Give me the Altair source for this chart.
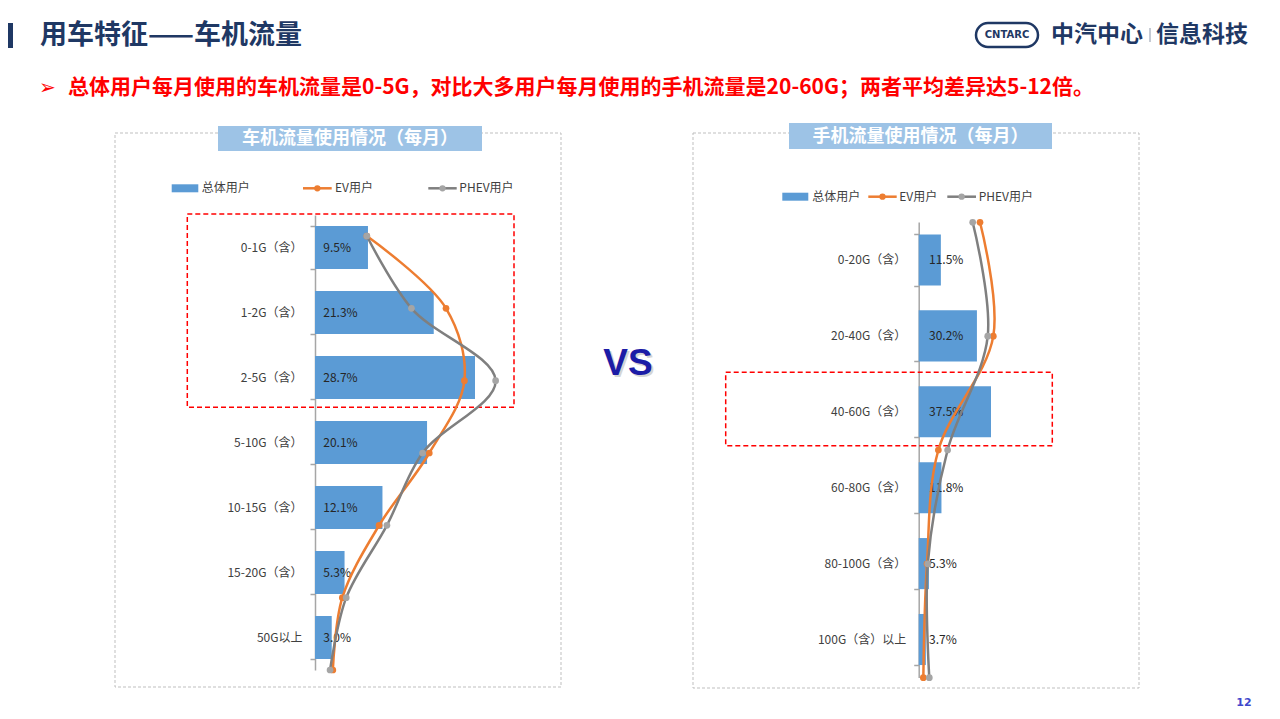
import altair as alt
import pandas as pd

# ---------------- data ----------------
car_cats = ["0-1G（含）", "1-2G（含）", "2-5G（含）", "5-10G（含）", "10-15G（含）", "15-20G（含）", "50G以上"]
car_total = [9.5, 21.3, 28.7, 20.1, 12.1, 5.3, 3.0]
car_ev = [9.3, 23.5, 26.8, 20.5, 11.5, 4.9, 3.2]
car_phev = [9.3, 17.3, 32.4, 19.3, 12.9, 5.6, 2.7]

phone_cats = ["0-20G（含）", "20-40G（含）", "40-60G（含）", "60-80G（含）", "80-100G（含）", "100G（含）以上"]
phone_total = [11.5, 30.2, 37.5, 11.8, 5.3, 3.7]
phone_ev = [31.8, 38.7, 10.2, 4.3, 2.4]
phone_phev = [28.0, 35.8, 15.0, 4.7, 5.5]

page_title = "用车特征——车机流量"
subtitle = "总体用户每月使用的车机流量是0-5G，对比大多用户每月使用的手机流量是20-60G；两者平均差异达5-12倍。"
car_title = "车机流量使用情况（每月）"
phone_title = "手机流量使用情况（每月）"
legend_names = ["总体用户", "EV用户", "PHEV用户"]

FONT = "Noto Sans CJK SC"
BLUE = "#5B9BD5"
ORANGE = "#ED7D31"
GRAY = "#7F7F7F"
LGRAY = "#A5A5A5"
NAVY = "#1F3864"
AXIS = "#A6A6A6"

one = pd.DataFrame({"d": [0]})


def rect(x1, x2, y1, y2, **kw):
    return alt.Chart(one).mark_rect(**kw).encode(
        x=alt.value(x1), x2=alt.value(x2), y=alt.value(y1), y2=alt.value(y2))


def text(x, y, s, **kw):
    base = dict(font=FONT, baseline="middle")
    base.update(kw)
    return alt.Chart(one).mark_text(text=s, **base).encode(x=alt.value(x), y=alt.value(y))


def hrule(x1, x2, y, **kw):
    return alt.Chart(one).mark_rule(**kw).encode(x=alt.value(x1), x2=alt.value(x2), y=alt.value(y))


def vrule(x, y1, y2, **kw):
    return alt.Chart(one).mark_rule(**kw).encode(x=alt.value(x), y=alt.value(y1), y2=alt.value(y2))


def dot(x, y, color, size=40):
    return alt.Chart(one).mark_point(filled=True, color=color, size=size, opacity=1).encode(
        x=alt.value(x), y=alt.value(y))


def bars_layer(cats, vals, xdom, xrange, yrange, pin, pout, axis_x, label_x):
    df = pd.DataFrame({"cat": cats, "v": vals, "lab": [f"{v:.1f}%" for v in vals]})
    y = alt.Y("cat:N", sort=cats,
              scale=alt.Scale(range=yrange, paddingInner=pin, paddingOuter=pout),
              axis=alt.Axis(orient="left", offset=-axis_x, title=None, grid=False,
                            domainColor=AXIS, domainWidth=1.5, tickColor=AXIS, tickWidth=1.5,
                            tickSize=5, tickBand="extent", labelPadding=8, labelFont=FONT,
                            labelFontSize=12, labelColor="#404040"))
    x = alt.X("v:Q", scale=alt.Scale(domain=xdom, range=xrange, nice=False), axis=None)
    bar = alt.Chart(df).mark_bar(color=BLUE).encode(x=x, y=y)
    lab = alt.Chart(df).mark_text(align="left", baseline="middle", font=FONT, fontSize=12,
                                  color="#262626").encode(x=alt.value(label_x), y=y, text="lab:N")
    return alt.layer(bar, lab)


def lines_layer(ev, phev, xdom, xrange, ydom, yrange):
    df = pd.DataFrame({"i": list(range(len(ev))), "ev": ev, "phev": phev})
    y = alt.Y("i:Q", scale=alt.Scale(domain=ydom, range=yrange, nice=False, zero=False), axis=None)
    xe = alt.X("ev:Q", scale=alt.Scale(domain=xdom, range=xrange, nice=False), axis=None)
    xp = alt.X("phev:Q", scale=alt.Scale(domain=xdom, range=xrange, nice=False), axis=None)
    ev_line = alt.Chart(df).mark_line(color=ORANGE, strokeWidth=2.5, interpolate="catmull-rom").encode(
        x=xe, y=y, order="i:Q")
    ev_pts = alt.Chart(df).mark_point(filled=True, color=ORANGE, size=45, opacity=1).encode(x=xe, y=y)
    ph_line = alt.Chart(df).mark_line(color=GRAY, strokeWidth=2.5, interpolate="catmull-rom").encode(
        x=xp, y=y, order="i:Q")
    ph_pts = alt.Chart(df).mark_point(filled=True, color=LGRAY, size=45, opacity=1).encode(x=xp, y=y)
    return alt.layer(ev_line, ev_pts, ph_line, ph_pts)


def legend(y, r1, r2, t1, e1, e2, t2, p1, p2, t3):
    return [
        rect(r1, r2, y - 4, y + 4, color=BLUE),
        text(t1, y, legend_names[0], align="left", fontSize=12, color="#404040"),
        hrule(e1, e2, y, color=ORANGE, strokeWidth=2.5),
        dot((e1 + e2) / 2, y, ORANGE),
        text(t2, y, legend_names[1], align="left", fontSize=12, color="#404040"),
        hrule(p1, p2, y, color=GRAY, strokeWidth=2.5),
        dot((p1 + p2) / 2, y, LGRAY),
        text(t3, y, legend_names[2], align="left", fontSize=12, color="#404040"),
    ]


decor = [
    # header
    rect(0, 5, 15, 40, color=NAVY),
    text(32, 28, page_title, align="left", fontSize=27, fontWeight="bold", color=NAVY),
    text(31, 80, "➢", align="left", fontSize=20, color="#FF0000", font="DejaVu Sans"),
    text(60, 80, subtitle, align="left", fontSize=21, fontWeight="bold", color="#FF0000"),
    # logo
    rect(968, 1030, 15, 39, fill="white", stroke=NAVY, strokeWidth=2.5, cornerRadius=12),
    text(999, 27, "CNTARC", align="center", fontSize=10, fontWeight="bold", color=NAVY, font="DejaVu Sans"),
    text(1043, 27, "中汽中心", align="left", fontSize=23, fontWeight="bold", color=NAVY),
    vrule(1142, 20, 34, color="#8C96A8", strokeWidth=1),
    text(1148, 27, "信息科技", align="left", fontSize=23, fontWeight="bold", color=NAVY),
    # page number
    text(1236, 695, "12", align="center", fontSize=11, fontWeight="bold", color="#3F48CC", font="DejaVu Sans"),
    # panel frames
    rect(107, 553, 125, 679, fillOpacity=0, stroke="#BFBFBF", strokeWidth=1, strokeDash=[3, 2]),
    rect(685, 1131, 125, 680, fillOpacity=0, stroke="#BFBFBF", strokeWidth=1, strokeDash=[3, 2]),
    rect(210, 474, 118, 143, color="#9DC3E6"),
    text(342, 130.5, car_title, align="center", fontSize=18, fontWeight="bold", color="white"),
    rect(781, 1044, 115, 141, color="#9DC3E6"),
    text(912.5, 128.5, phone_title, align="center", fontSize=18, fontWeight="bold", color="white"),
    # VS
    text(622, 358, "VS", align="center", fontSize=37, fontWeight="bold", color="#888888", opacity=0.35,
         font="Liberation Sans"),
    text(620, 356, "VS", align="center", fontSize=37, fontWeight="bold", color="#1C1CA6",
         font="Liberation Sans"),
]
decor += legend(180.3, 163.7, 190.3, 193.7, 295, 323.7, 327, 420.3, 448.7, 451.3)
decor += legend(188.7, 774.3, 800.3, 804.3, 860.3, 888.7, 891.3, 939.3, 968, 970.7)

highlight = [
    rect(179.3, 506, 206, 399.3, fillOpacity=0, stroke="#FF0000", strokeWidth=1.5, strokeDash=[5, 3]),
    rect(717.7, 1044.3, 364.3, 437.7, fillOpacity=0, stroke="#FF0000", strokeWidth=1.5, strokeDash=[5, 3]),
]

car_b = bars_layer(car_cats, car_total, [0, 28.7], [307, 467], [207, 662], 0.338, 0.169, 307, 315.3)
car_l = lines_layer(car_ev, car_phev, [0, 28.7], [307, 467], [0, 6], [228, 662])
phone_b = bars_layer(phone_cats, phone_total, [0, 37.5], [910.7, 983], [214, 669.5], 0.327, 0.164, 910.7, 921)
phone_l = lines_layer(phone_ev, phone_phev, [0, 37.5], [910.7, 983], [0, 4], [214.3, 669.7])

chart = alt.layer(*decor, car_b, phone_b, *highlight, car_l, phone_l).resolve_scale(
    x="independent", y="independent"
).properties(
    width=1264, height=703, padding=0, background="white",
    autosize=alt.AutoSizeParams(type="none"),
).configure_view(stroke=None)

chart.save("out.html", embed_options={"renderer": "svg", "actions": False})
